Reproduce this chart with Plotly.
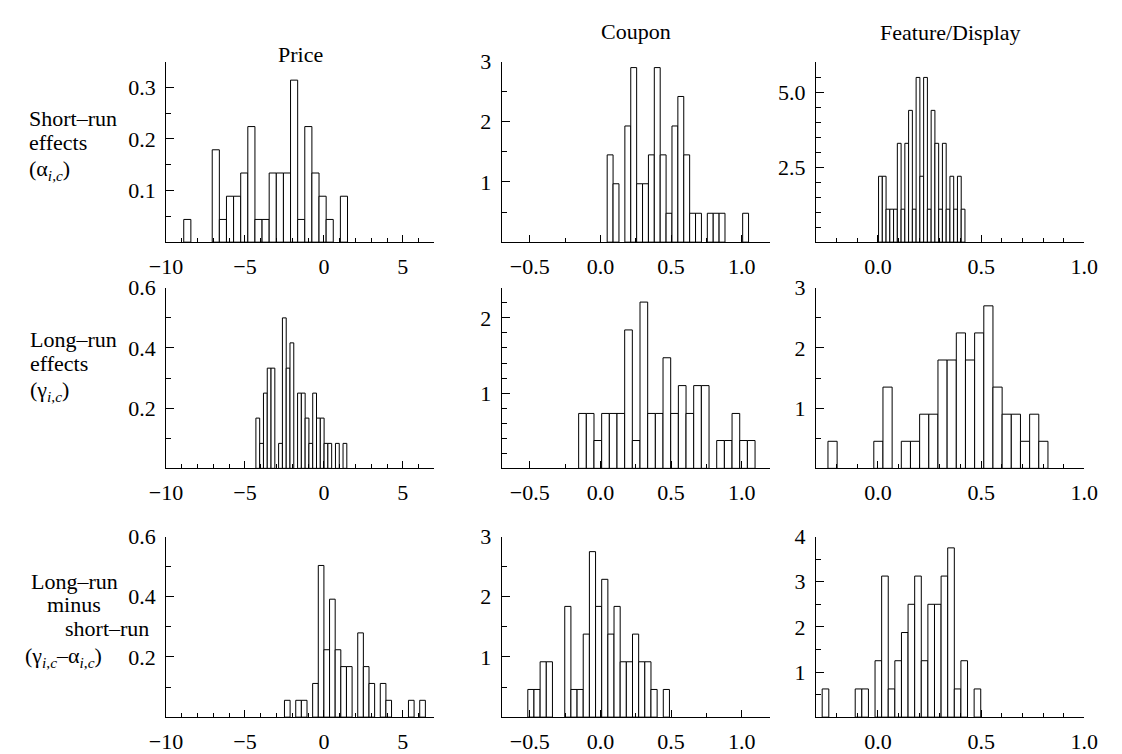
import plotly.graph_objects as go

# ---------------- data (density histograms) ----------------
# each panel: left edge of first bin, bin width, bar heights (None = empty bin)
price_sr_start, price_sr_width = -8.88, 0.451
price_sr = [0.044, None, None, None, 0.179, 0.044, 0.089, 0.089, 0.134, 0.224, 0.044, 0.044,
            0.134, 0.134, 0.134, 0.314, 0.044, 0.224, 0.134, 0.089, 0.044, None, 0.089]

coupon_sr_start, coupon_sr_width = 0.048, 0.0417
coupon_sr = [1.45, 0.97, None, 1.93, 2.90, 0.97, 0.97, 1.45, 2.90, 1.45, 0.48, 1.93,
             2.42, 1.45, 0.48, 0.48, None, 0.48, 0.48, 0.48, None, None, None, 0.48]

feat_sr_start, feat_sr_width = 0.003, 0.0182
feat_sr = [2.2, 2.2, 1.1, 1.1, 1.1, 3.3, 1.1, 3.3, 4.4, 1.1, 5.5, 2.2, 5.5, 1.1, 4.4,
           3.3, 1.1, 3.3, 1.1, 2.2, 1.1, 2.2, 1.1]

price_lr_start, price_lr_width = -4.31, 0.24
price_lr = [0.167, 0.083, 0.25, 0.333, 0.333, None, 0.083, 0.5, 0.333, 0.417, None, 0.25,
            0.25, 0.167, 0.083, 0.25, 0.167, 0.167, 0.083, 0.083, None, 0.083, None, 0.083]

coupon_lr_start, coupon_lr_width = -0.154, 0.0543
coupon_lr = [0.73, 0.73, 0.37, 0.73, 0.73, 0.73, 1.84, 0.37, 2.21, 0.73, 0.73, 1.47,
             0.73, 1.10, 0.73, 1.10, 1.10, None, 0.37, 0.37, 0.73, 0.37, 0.37]

feat_lr_start, feat_lr_width = -0.242, 0.0444
feat_lr = [0.45, None, None, None, None, 0.45, 1.35, None, 0.45, 0.45, 0.9, 0.9, 1.8, 1.8,
           2.25, 1.8, 2.25, 2.7, 1.35, 0.9, 0.9, 0.45, 0.9, 0.45]

price_df_start, price_df_width = -2.5, 0.357
price_df = [0.056, None, 0.056, 0.056, None, 0.112, 0.504, 0.224, 0.392, 0.224, 0.168, 0.168,
            None, 0.28, 0.168, 0.112, None, 0.112, 0.056, None, None, None, 0.056, None, 0.056]

coupon_df_start, coupon_df_width = -0.514, 0.0436
coupon_df = [0.46, 0.46, 0.92, 0.92, None, None, 1.84, 0.46, 0.46, 1.38, 2.75, 1.84, 2.29,
             1.38, 1.84, 0.92, 0.92, 1.38, 0.92, 0.92, 0.46, None, 0.46]

feat_df_start, feat_df_width = -0.27, 0.032
feat_df = [0.625, None, None, None, None, 0.625, 0.625, None, 1.25, 3.125, 0.625, 1.25,
           1.875, 2.5, 3.125, 1.25, 2.5, 2.5, 3.125, 3.75, 0.625, 1.25, None, 0.625]

col_titles = ["Price", "Coupon", "Feature/Display"]

# axis ranges / ticks
x_ranges = [[-10, 7], [-0.7, 1.2], [-0.3, 1.0]]
x_ticks = [[-10, -5, 0, 5], [-0.5, 0.0, 0.5, 1.0], [0.0, 0.5, 1.0]]
x_minor = [1, 0.25, 0.1]
x_fmt = ["d", ".1f", ".1f"]

y_ranges = [[0, 0.35], [0, 3.0], [0, 6.03],
            [0, 0.6], [0, 2.4], [0, 3.0],
            [0, 0.6], [0, 3.0], [0, 4.0]]
y_ticks = [[0.1, 0.2, 0.3], [1, 2, 3], [2.5, 5.0],
           [0.2, 0.4, 0.6], [1, 2], [1, 2, 3],
           [0.2, 0.4, 0.6], [1, 2, 3], [1, 2, 3, 4]]
y_minor = [0.05, 0.5, 0.5, 0.1, 0.2, 0.5, 0.1, 0.5, 0.5]
y_fmt = [".1f", "d", ".1f", ".1f", "d", "d", ".1f", "d", "d"]

panels = [
    (price_sr_start, price_sr_width, price_sr),
    (coupon_sr_start, coupon_sr_width, coupon_sr),
    (feat_sr_start, feat_sr_width, feat_sr),
    (price_lr_start, price_lr_width, price_lr),
    (coupon_lr_start, coupon_lr_width, coupon_lr),
    (feat_lr_start, feat_lr_width, feat_lr),
    (price_df_start, price_df_width, price_df),
    (coupon_df_start, coupon_df_width, coupon_df),
    (feat_df_start, feat_df_width, feat_df),
]

# ---------------- layout geometry (pixels) ----------------
W, H = 1122, 754
col_px = [(153.3, 429.3), (498.3, 774.3), (821.7, 1097.7)]
row_px = [(50.5, 234.5), (281.0, 465.0), (534.5, 718.5)]

FONT = "Liberation Serif, Times New Roman, serif"
FS = 22

fig = go.Figure()
layout = dict(
    width=W, height=H, autosize=False,
    margin=dict(l=0, r=0, t=0, b=0),
    paper_bgcolor="white", plot_bgcolor="white",
    showlegend=False, bargap=0,
    font=dict(family=FONT, size=FS, color="black"),
)

for i, (start, width, heights) in enumerate(panels):
    r, c = divmod(i, 3)
    n = i + 1
    xa = "x" if n == 1 else f"x{n}"
    ya = "y" if n == 1 else f"y{n}"
    centers = [start + (k + 0.5) * width for k in range(len(heights))]
    fig.add_trace(go.Bar(
        x=centers, y=heights, width=[width] * len(heights),
        marker=dict(color="white", line=dict(color="black", width=1)),
        xaxis=xa, yaxis=ya, hoverinfo="skip",
    ))
    x0, x1 = col_px[c]
    t, b = row_px[r]
    xkey = "xaxis" if n == 1 else f"xaxis{n}"
    ykey = "yaxis" if n == 1 else f"yaxis{n}"
    layout[xkey] = dict(
        domain=[x0 / W, x1 / W], anchor=ya, range=x_ranges[c],
        showline=True, linecolor="black", linewidth=1, mirror=False,
        showgrid=False, zeroline=False,
        ticks="inside", ticklen=7, tickwidth=1, tickcolor="black",
        tickmode="array", tickvals=x_ticks[c], tickformat=x_fmt[c],
        tickfont=dict(family=FONT, size=FS, color="black"),
        ticklabelstandoff=4,
        minor=dict(ticks="inside", ticklen=4, tickwidth=1, tickcolor="black",
                   dtick=x_minor[c], tick0=0, showgrid=False),
        fixedrange=True,
    )
    layout[ykey] = dict(
        domain=[1 - b / H, 1 - t / H], anchor=xa, range=y_ranges[i],
        showline=True, linecolor="black", linewidth=1, mirror=False,
        showgrid=False, zeroline=False,
        ticks="inside", ticklen=8, tickwidth=1, tickcolor="black",
        tickmode="array", tickvals=y_ticks[i], tickformat=y_fmt[i],
        tickfont=dict(family=FONT, size=FS, color="black"),
        ticklabelstandoff=5,
        minor=dict(ticks="inside", ticklen=5, tickwidth=1, tickcolor="black",
                   dtick=y_minor[i], tick0=0, showgrid=False),
        fixedrange=True,
    )

annotations = []
# column titles
title_y = [43, 20, 21]
for c, txt in enumerate(col_titles):
    x0, x1 = col_px[c]
    annotations.append(dict(text=txt, x=(x0 + x1) / 2 / W, y=1 - title_y[c] / H,
                            xref="paper", yref="paper", showarrow=False,
                            xanchor="center", yanchor="middle",
                            font=dict(family=FONT, size=FS, color="black")))

# row labels (one annotation per line)
sub = "<sub><i>i</i>,<i>c</i></sub>"
row_lines = [
    [("Short–run", 11, 109), ("effects", 11, 133), ("(α" + sub + ")", 11, 161)],
    [("Long–run", 12, 334), ("effects", 12, 358), ("(γ" + sub + ")", 12, 386)],
    [("Long–run", 13, 580), ("minus", 30, 604), ("short–run", 48, 628),
     ("(γ" + sub + "–α" + sub + ")", 7, 657)],
]
for lines in row_lines:
    for txt, px, py in lines:
        annotations.append(dict(text=txt, x=px / W, y=1 - py / H,
                                xref="paper", yref="paper", showarrow=False,
                                xanchor="left", yanchor="middle", borderpad=0,
                                font=dict(family=FONT, size=FS, color="black")))

layout["annotations"] = annotations
fig.update_layout(**layout)

fig.write_html("out.html", config={"displayModeBar": False, "staticPlot": True},
               post_script="document.body.style.margin='0';")
